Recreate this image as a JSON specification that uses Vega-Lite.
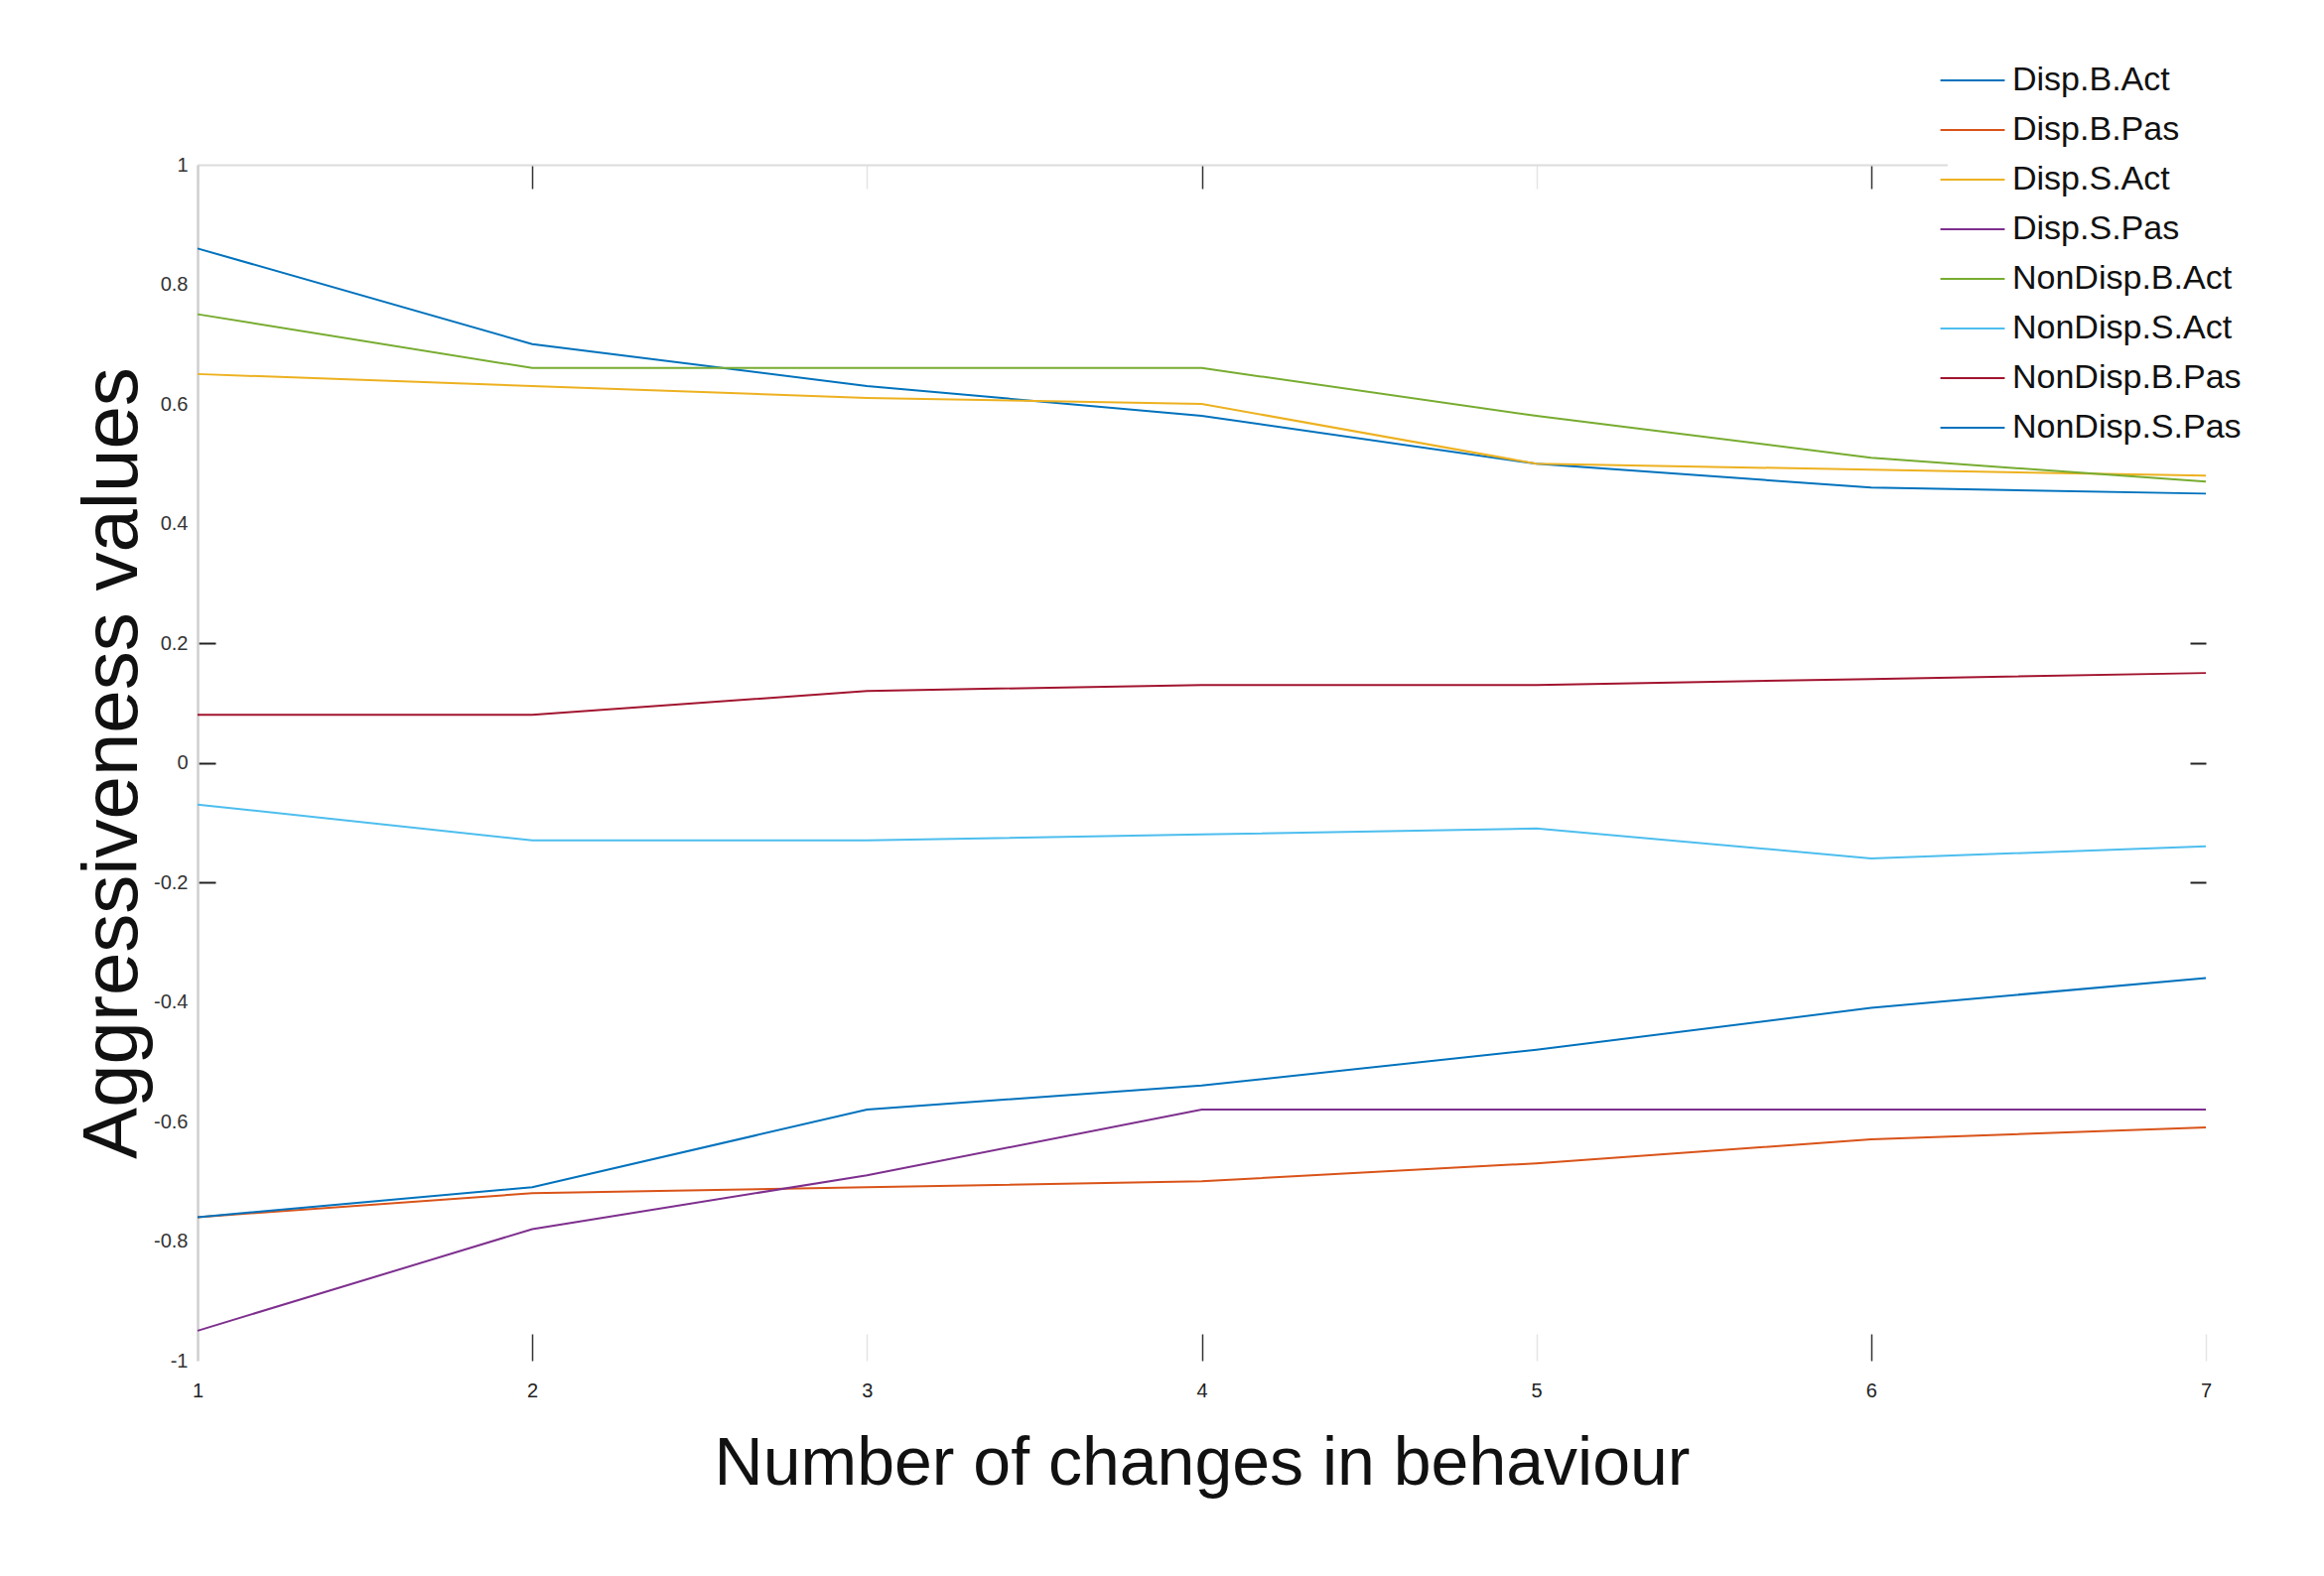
{
  "$schema": "https://vega.github.io/schema/vega-lite/v6.json",
  "width": 2023,
  "height": 1205,
  "autosize": {"type": "none"},
  "padding": {"left": 199, "top": 166, "right": 119, "bottom": 217},
  "background": "white",
  "config": {"view": {"stroke": null}, "font": "Liberation Sans"},
  "data": {"values": [
    {"series": "Disp.B.Act", "x": 1, "y": 0.86}, {"series": "Disp.B.Act", "x": 2, "y": 0.70}, {"series": "Disp.B.Act", "x": 3, "y": 0.63}, {"series": "Disp.B.Act", "x": 4, "y": 0.58}, {"series": "Disp.B.Act", "x": 5, "y": 0.50}, {"series": "Disp.B.Act", "x": 6, "y": 0.46}, {"series": "Disp.B.Act", "x": 7, "y": 0.45},
    {"series": "Disp.B.Pas", "x": 1, "y": -0.76}, {"series": "Disp.B.Pas", "x": 2, "y": -0.72}, {"series": "Disp.B.Pas", "x": 3, "y": -0.71}, {"series": "Disp.B.Pas", "x": 4, "y": -0.70}, {"series": "Disp.B.Pas", "x": 5, "y": -0.67}, {"series": "Disp.B.Pas", "x": 6, "y": -0.63}, {"series": "Disp.B.Pas", "x": 7, "y": -0.61},
    {"series": "Disp.S.Act", "x": 1, "y": 0.65}, {"series": "Disp.S.Act", "x": 2, "y": 0.63}, {"series": "Disp.S.Act", "x": 3, "y": 0.61}, {"series": "Disp.S.Act", "x": 4, "y": 0.60}, {"series": "Disp.S.Act", "x": 5, "y": 0.50}, {"series": "Disp.S.Act", "x": 6, "y": 0.49}, {"series": "Disp.S.Act", "x": 7, "y": 0.48},
    {"series": "Disp.S.Pas", "x": 1, "y": -0.95}, {"series": "Disp.S.Pas", "x": 2, "y": -0.78}, {"series": "Disp.S.Pas", "x": 3, "y": -0.69}, {"series": "Disp.S.Pas", "x": 4, "y": -0.58}, {"series": "Disp.S.Pas", "x": 5, "y": -0.58}, {"series": "Disp.S.Pas", "x": 6, "y": -0.58}, {"series": "Disp.S.Pas", "x": 7, "y": -0.58},
    {"series": "NonDisp.B.Act", "x": 1, "y": 0.75}, {"series": "NonDisp.B.Act", "x": 2, "y": 0.66}, {"series": "NonDisp.B.Act", "x": 3, "y": 0.66}, {"series": "NonDisp.B.Act", "x": 4, "y": 0.66}, {"series": "NonDisp.B.Act", "x": 5, "y": 0.58}, {"series": "NonDisp.B.Act", "x": 6, "y": 0.51}, {"series": "NonDisp.B.Act", "x": 7, "y": 0.47},
    {"series": "NonDisp.S.Act", "x": 1, "y": -0.07}, {"series": "NonDisp.S.Act", "x": 2, "y": -0.13}, {"series": "NonDisp.S.Act", "x": 3, "y": -0.13}, {"series": "NonDisp.S.Act", "x": 4, "y": -0.12}, {"series": "NonDisp.S.Act", "x": 5, "y": -0.11}, {"series": "NonDisp.S.Act", "x": 6, "y": -0.16}, {"series": "NonDisp.S.Act", "x": 7, "y": -0.14},
    {"series": "NonDisp.B.Pas", "x": 1, "y": 0.08}, {"series": "NonDisp.B.Pas", "x": 2, "y": 0.08}, {"series": "NonDisp.B.Pas", "x": 3, "y": 0.12}, {"series": "NonDisp.B.Pas", "x": 4, "y": 0.13}, {"series": "NonDisp.B.Pas", "x": 5, "y": 0.13}, {"series": "NonDisp.B.Pas", "x": 6, "y": 0.14}, {"series": "NonDisp.B.Pas", "x": 7, "y": 0.15},
    {"series": "NonDisp.S.Pas", "x": 1, "y": -0.76}, {"series": "NonDisp.S.Pas", "x": 2, "y": -0.71}, {"series": "NonDisp.S.Pas", "x": 3, "y": -0.58}, {"series": "NonDisp.S.Pas", "x": 4, "y": -0.54}, {"series": "NonDisp.S.Pas", "x": 5, "y": -0.48}, {"series": "NonDisp.S.Pas", "x": 6, "y": -0.41}, {"series": "NonDisp.S.Pas", "x": 7, "y": -0.36}
  ]},
  "layer": [
    {
      "mark": {"type": "line", "strokeWidth": 2},
      "encoding": {
        "x": {
          "field": "x", "type": "quantitative",
          "scale": {"domain": [1, 7], "nice": false, "zero": false},
          "axis": {
            "orient": "bottom", "values": [1, 2, 3, 4, 5, 6, 7], "domain": false, "grid": false,
            "tickSize": -27, "tickWidth": 1.5,
            "tickColor": {"condition": {"test": "datum.value == 2 || datum.value == 4 || datum.value == 6", "value": "#333333"}, "value": "#e4e4e4"},
            "labelPadding": 47, "labelFontSize": 20, "labelColor": "#222222", "labelExpr": "'' + datum.value", "labelFlush": false,
            "title": "Number of changes in behaviour", "titleFontSize": 68, "titleFontWeight": "normal", "titleColor": "#111111",
            "titleY": 124, "titleBaseline": "alphabetic", "titleAlign": "center"
          }
        },
        "y": {
          "field": "y", "type": "quantitative",
          "scale": {"domain": [-1, 1], "nice": false, "zero": false},
          "axis": {
            "orient": "left", "values": [-1, -0.8, -0.6, -0.4, -0.2, 0, 0.2, 0.4, 0.6, 0.8, 1],
            "domain": true, "domainColor": "#cfcfcf", "domainWidth": 2.5, "grid": false,
            "tickSize": -18, "tickWidth": 2,
            "tickColor": {"condition": {"test": "abs(datum.value) < 0.25", "value": "#222222"}, "value": "transparent"},
            "labelPadding": 28, "labelFontSize": 20, "labelColor": "#333333", "labelExpr": "'' + datum.value", "labelFlush": false,
            "title": "Aggressiveness values", "titleFontSize": 78, "titleFontWeight": "normal", "titleColor": "#111111",
            "titleX": -62, "titleY": 602.5, "titleAngle": 270, "titleBaseline": "alphabetic", "titleAlign": "center"
          }
        },
        "color": {
          "field": "series", "type": "nominal",
          "scale": {
            "domain": ["Disp.B.Act", "Disp.B.Pas", "Disp.S.Act", "Disp.S.Pas", "NonDisp.B.Act", "NonDisp.S.Act", "NonDisp.B.Pas", "NonDisp.S.Pas"],
            "range": ["#0072BD", "#D95319", "#EDB120", "#7E2F8E", "#77AC30", "#4DBEEE", "#A2142F", "#0072BD"]
          },
          "legend": {
            "orient": "none", "legendX": 1763, "legendY": -110, "title": null, "padding": 0, "rowPadding": 8,
            "fillColor": "white",
            "symbolType": "M-1.35,0H1.35", "symbolSize": 2304, "symbolStrokeWidth": 2,
            "labelFontSize": 34, "labelOffset": 15, "labelColor": "#111111", "labelLimit": 400
          }
        }
      }
    },
    {
      "mark": {"type": "point", "opacity": 0},
      "encoding": {
        "x": {
          "field": "x", "type": "quantitative",
          "axis": {
            "orient": "top", "values": [1, 2, 3, 4, 5, 6, 7], "labels": false, "grid": false,
            "domain": true, "domainColor": "#dcdcdc", "domainWidth": 2,
            "tickSize": -24, "tickWidth": 1.5,
            "tickColor": {"condition": {"test": "datum.value == 2 || datum.value == 4 || datum.value == 6", "value": "#333333"}, "value": "#e4e4e4"},
            "title": null
          }
        },
        "y": {
          "field": "y", "type": "quantitative",
          "axis": {
            "orient": "right", "values": [-0.2, 0, 0.2], "labels": false, "grid": false, "domain": false,
            "tickSize": -16, "tickWidth": 2, "tickColor": "#222222", "title": null
          }
        }
      }
    }
  ],
  "resolve": {"axis": {"x": "independent", "y": "independent"}}
}
